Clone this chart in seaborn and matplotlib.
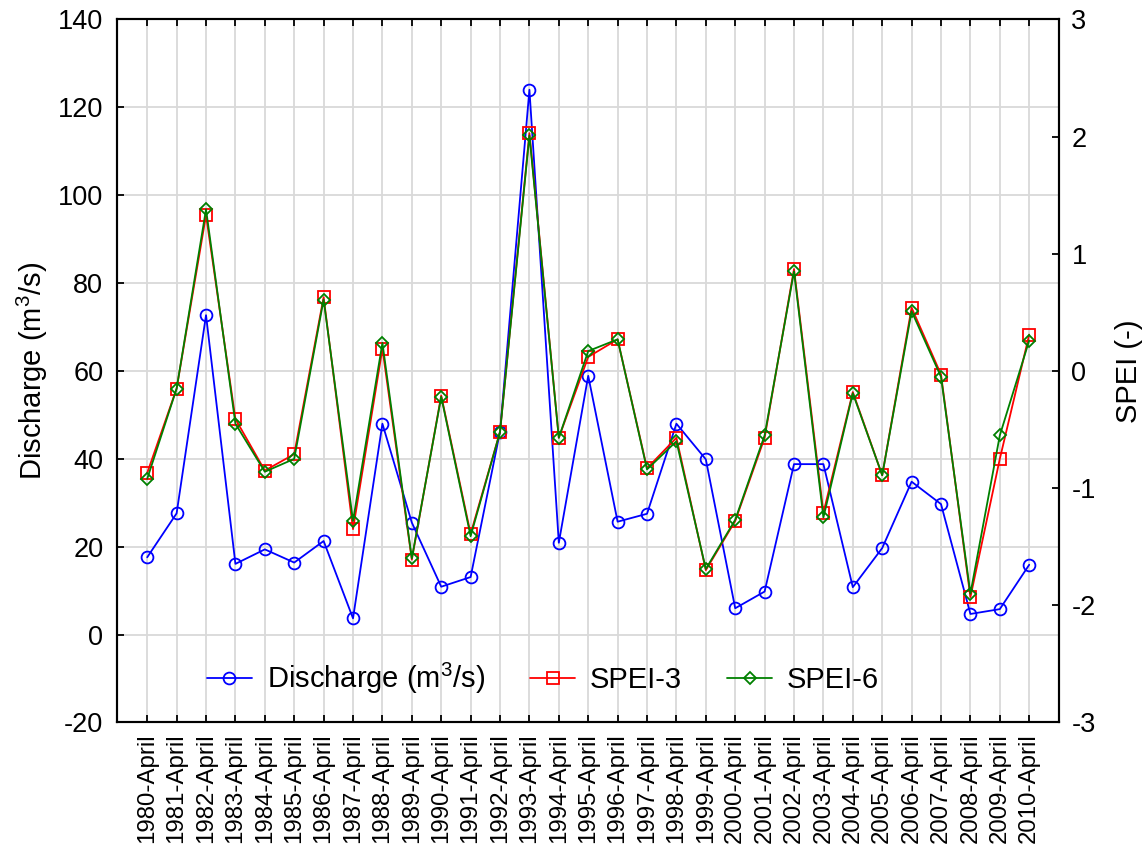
import matplotlib
matplotlib.use("Agg")
import matplotlib.pyplot as plt
import numpy as np
import pandas as pd
import seaborn as sns

# April values, 1980-2010
years = list(range(1980, 2011))
month = "April"
discharge = [17.6, 27.6, 72.7, 16.1, 19.4, 16.4, 21.3, 3.7, 48.0, 25.5, 10.9,
             13.1, 46.2, 124.0, 20.9, 58.9, 25.7, 27.5, 48.0, 39.9, 6.0, 9.8,
             38.8, 38.8, 10.8, 19.7, 34.8, 29.7, 4.7, 5.8, 15.9]
spei3 = [-0.87, -0.15, 1.33, -0.41, -0.85, -0.71, 0.63, -1.35, 0.19, -1.61,
         -0.21, -1.39, -0.52, 2.03, -0.57, 0.12, 0.27, -0.83, -0.57, -1.70,
         -1.28, -0.57, 0.87, -1.21, -0.18, -0.89, 0.54, -0.03, -1.93, -0.75,
         0.31]
spei6 = [-0.92, -0.15, 1.38, -0.45, -0.86, -0.75, 0.61, -1.28, 0.24, -1.60,
         -0.22, -1.41, -0.52, 2.01, -0.57, 0.17, 0.27, -0.84, -0.60, -1.69,
         -1.27, -0.55, 0.85, -1.25, -0.19, -0.89, 0.51, -0.05, -1.90, -0.55,
         0.26]
tick_labels = [f"{y}-{month}" for y in years]
q_ticks = list(range(-20, 141, 20))
spei_ticks = list(range(-3, 4))

df = pd.DataFrame({"pos": np.arange(len(years)), "discharge": discharge,
                   "spei3": spei3, "spei6": spei6})

sns.set_style("ticks")
plt.rcParams.update({
    "font.family": ["Liberation Sans", "DejaVu Sans"],
    "mathtext.fontset": "custom",
    "mathtext.rm": "Liberation Sans",
    "mathtext.it": "Liberation Sans:italic",
    "mathtext.bf": "Liberation Sans:bold",
    "axes.unicode_minus": False,
    "axes.linewidth": 1.5,
    "xtick.direction": "in",
    "ytick.direction": "in",
    "xtick.color": "black",
    "ytick.color": "black",
    "axes.edgecolor": "black",
    "text.color": "black",
    "axes.labelcolor": "black",
})

TICK_FS = 19.5
LABEL_FS = 21

fig = plt.figure(figsize=(11.46, 8.47), dpi=100)
ax1 = fig.add_axes([0.1023, 0.147, 0.8217, 0.830])
ax2 = ax1.twinx()

q_label = "Discharge (m$^3$/s)"
line_kw = dict(linewidth=1.3, markerfacecolor="none", markeredgewidth=1.3)

sns.lineplot(data=df, x="pos", y="discharge", ax=ax1, color="#0000ff",
             marker="o", markersize=8.5, markeredgecolor="#0000ff",
             label=q_label, legend=False, **line_kw)
sns.lineplot(data=df, x="pos", y="spei3", ax=ax2, color="#ff0000",
             marker="s", markersize=8.5, markeredgecolor="#ff0000",
             label="SPEI-3", legend=False, **line_kw)
sns.lineplot(data=df, x="pos", y="spei6", ax=ax2, color="#008000",
             marker="D", markersize=6.5, markeredgecolor="#008000",
             label="SPEI-6", legend=False, **line_kw)

ax1.set_xlim(-1.02, len(years) - 1 + 1.01)
ax1.set_ylim(-20, 140)
ax2.set_ylim(-3, 3)

ax1.set_xticks(df["pos"])
ax1.set_xticklabels(tick_labels, rotation=90)
ax1.set_yticks(q_ticks)
ax2.set_yticks(spei_ticks)

ax1.grid(True, color="#d9d9d9", linewidth=1.3)
ax1.set_axisbelow(True)
ax2.grid(False)

ax1.tick_params(axis="x", which="both", top=True, bottom=True, length=5,
                width=1.3, pad=8, labelsize=17.3)
ax1.tick_params(axis="y", length=5, width=1.3, pad=10, labelsize=TICK_FS)
ax2.tick_params(axis="y", length=5, width=1.3, pad=9, labelsize=TICK_FS,
                direction="in")

ax1.set_xlabel("")
ax1.set_ylabel(q_label, fontsize=LABEL_FS, labelpad=6)
ax2.set_ylabel("SPEI (-)", fontsize=LABEL_FS, labelpad=14)

for sp in ax2.spines.values():
    sp.set_linewidth(1.5)
    sp.set_color("black")

handles = ax1.get_lines()[:1] + ax2.get_lines()[:2]
labels = [h.get_label() for h in handles]
ax2.legend(handles, labels, loc="center", bbox_to_anchor=(0.452, 0.063),
           ncol=3, frameon=False, fontsize=LABEL_FS, handlelength=1.55,
           handletextpad=0.5, columnspacing=1.55)

fig.savefig("out.png", dpi=100, facecolor="white")
